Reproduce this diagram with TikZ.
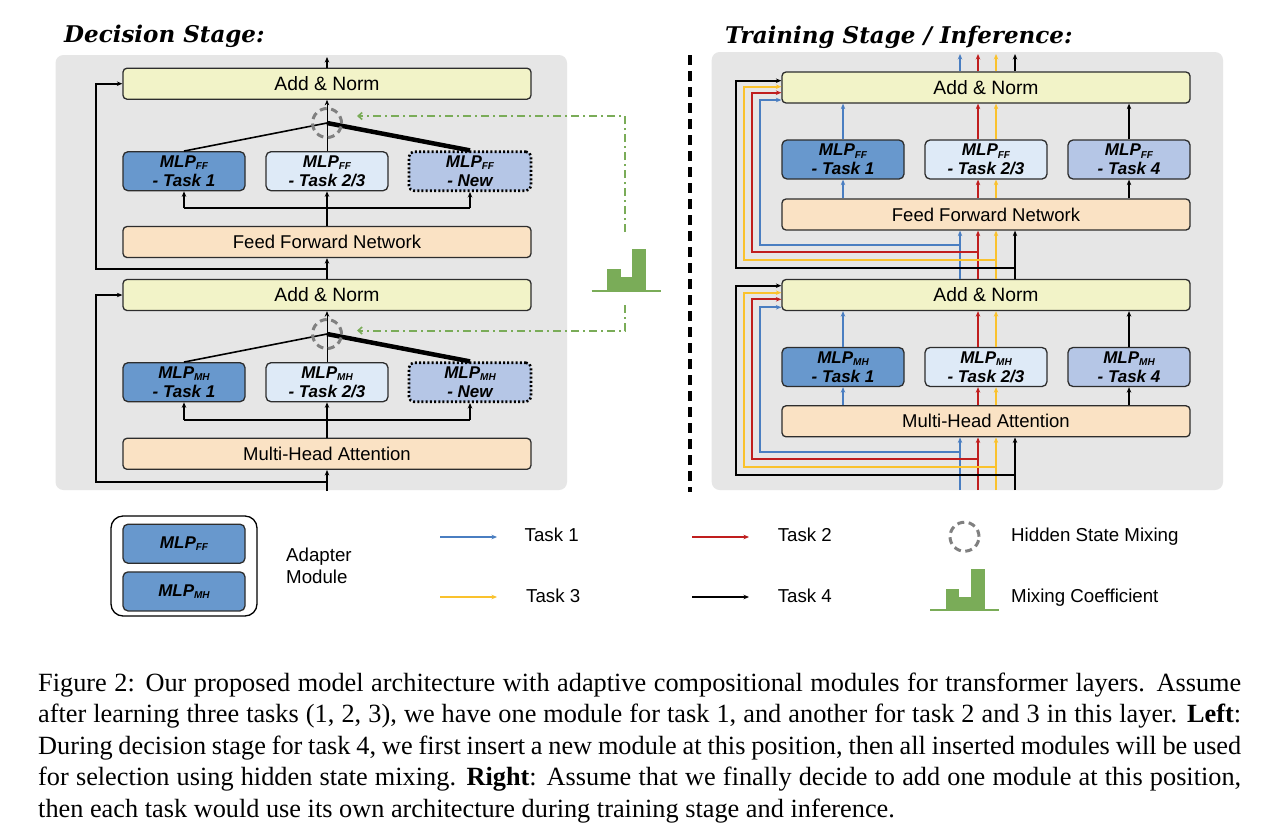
\documentclass[tikz,border=0pt]{standalone}
\usepackage{fontspec}
\setmainfont{Liberation Serif}
\setsansfont{Liberation Sans}
\newfontfamily\titlefont{DejaVu Serif}
\usetikzlibrary{arrows.meta}
\definecolor{panelgray}{RGB}{230,230,230}
\definecolor{anyellow}{RGB}{242,243,200}
\definecolor{peach}{RGB}{250,226,196}
\definecolor{mlpA}{RGB}{104,152,205}
\definecolor{mlpB}{RGB}{222,234,247}
\definecolor{mlpC}{RGB}{181,198,230}
\definecolor{bord}{RGB}{45,45,45}
\definecolor{tblue}{RGB}{74,126,193}
\definecolor{tred}{RGB}{192,30,30}
\definecolor{tyellow}{RGB}{250,194,45}
\definecolor{mixgreen}{RGB}{122,172,88}
\definecolor{mixgray}{RGB}{128,128,128}
\newcommand\mlpsub[1]{\raisebox{-2.5pt}{\fontsize{10}{10}\selectfont #1}}
\tikzset{
  wide/.style={draw=bord, line width=1.3pt, rounded corners=4pt, minimum width=408pt, minimum height=31pt, inner sep=0pt, font=\sffamily\fontsize{18.5}{22}\selectfont},
  anbox/.style={wide, fill=anyellow, font=\sffamily\fontsize{19.3}{22}\selectfont},
  ffbox/.style={wide, fill=peach},
  mlpbox/.style={draw=bord, line width=1.3pt, rounded corners=5pt, minimum width=122pt, minimum height=39pt, inner sep=0pt, align=center, font=\sffamily\bfseries\itshape\fontsize{17}{19}\selectfont},
  newbox/.style={mlpbox, draw=black, line width=2.6pt, dash pattern=on 2pt off 2.2pt},
  mixcirc/.style={circle, draw=mixgray, line width=3pt, dash pattern=on 7pt off 4.5pt, minimum size=29pt, inner sep=0pt},
  tip/.style={-{Stealth[length=5.5pt,width=4.5pt]}},
  bw/.style={line width=2pt, black},
  lane/.style={line width=2.3pt, tip},
  gdd/.style={mixgreen, line width=2pt, dash pattern=on 8pt off 4pt on 2pt off 4pt},
  gtip/.style={-{Straight Barb[length=4pt,width=7pt,line width=1.6pt]}},
  lbl/.style={font=\sffamily\fontsize{18.7}{21.3}\selectfont, inner sep=0pt, anchor=base west},
  ttl/.style={font=\titlefont\bfseries\itshape\fontsize{23}{26}\selectfont, inner sep=0pt, anchor=base west}
}
\begin{document}
\begin{tikzpicture}[x=1pt,y=-1pt]
\useasboundingbox[fill=white] (0,0) rectangle (1284,836);
% titles
\node[ttl] (t1) at (64,42) {Decision Stage:};
\node[ttl] (t2) at (725,43) {Training Stage / Inference:};
% panels
\fill[panelgray, rounded corners=8pt] (55.5,55) rectangle (567,490);
\fill[panelgray, rounded corners=8pt] (711.7,52) rectangle (1223,490);
\draw[line width=3.5pt, dash pattern=on 10pt off 6pt] (690,55) -- (690,492);

% ---------------- left panel ----------------
\node[anbox] (an1) at (327,83.7) {Add \& Norm};
\node[mlpbox, fill=mlpA] (m1a) at (184,171.2) {MLP\mlpsub{FF}\\- Task 1};
\node[mlpbox, fill=mlpB] (m1b) at (327,171.2) {MLP\mlpsub{FF}\\- Task 2/3};
\node[newbox, fill=mlpC] (m1c) at (470,171.2) {MLP\mlpsub{FF}\\- New};
\node[ffbox] (ffn) at (327,242) {Feed Forward Network};
\node[anbox] (an2) at (327,295) {Add \& Norm};
\node[mlpbox, fill=mlpA] (m2a) at (184,382.2) {MLP\mlpsub{MH}\\- Task 1};
\node[mlpbox, fill=mlpB] (m2b) at (327,382.2) {MLP\mlpsub{MH}\\- Task 2/3};
\node[newbox, fill=mlpC] (m2c) at (470,382.2) {MLP\mlpsub{MH}\\- New};
\node[ffbox] (mha) at (327,453.8) {Multi-Head Attention};

\coordinate (j1) at (327,123);
\coordinate (j2) at (327,334);
\coordinate (out1) at (327,57);
\coordinate (in1) at (327,491);
\coordinate (bus1) at (327,208);
\coordinate (bus2) at (327,420);
\coordinate (r1) at (327,269.3);
\coordinate (r2) at (327,481.7);

% upper block
\draw[bw, tip] (an1.north) -- (out1);
\draw[line width=1pt, tip] (m1b.north) -- (an1.south);
\draw[line width=1.6pt] (j1) -- (m1a.north);
\draw[line width=4.5pt] (j1) -- (m1c.north);
\draw[bw] (m1a.south |- bus1) -- (m1c.south |- bus1);
\draw[bw, tip] (ffn.north) -- (m1b.south);
\draw[bw, tip] (m1a.south |- bus1) -- (m1a.south);
\draw[bw, tip] (m1c.south |- bus1) -- (m1c.south);
\draw[bw, tip] (an2.north) -- (ffn.south);
\draw[bw, tip] (r1) -- (96,269.3) |- (an1.west);
\node[mixcirc] (mix1) at (j1) {};
% lower block
\draw[line width=1pt, tip] (m2b.north) -- (an2.south);
\draw[line width=1.6pt] (j2) -- (m2a.north);
\draw[line width=4.5pt] (j2) -- (m2c.north);
\draw[bw] (m2a.south |- bus2) -- (m2c.south |- bus2);
\draw[bw, tip] (mha.north) -- (m2b.south);
\draw[bw, tip] (m2a.south |- bus2) -- (m2a.south);
\draw[bw, tip] (m2c.south |- bus2) -- (m2c.south);
\draw[bw, tip] (in1) -- (mha.south);
\draw[bw, tip] (r2) -- (96,481.7) |- (an2.west);
\node[mixcirc] (mix2) at (j2) {};

% mixing coefficient (green)
\coordinate (g1) at (357,116);
\coordinate (g2) at (357,330.5);
\draw[gdd, gtip] (625,232) -- (625,116) -- (g1);
\draw[gdd, gtip] (625,305) -- (625,330.5) -- (g2);
\fill[mixgreen] (606.7,269.3) rectangle (621,291);
\fill[mixgreen] (621,276.7) rectangle (632.3,291);
\fill[mixgreen] (632.3,249.3) rectangle (646,291);
\draw[mixgreen, line width=2pt] (591.7,291) -- (660.7,291);

% ---------------- right panel ----------------
\node[anbox] (ran1) at (986,87.5) {Add \& Norm};
\node[mlpbox, fill=mlpA] (rm1a) at (843,159.5) {MLP\mlpsub{FF}\\- Task 1};
\node[mlpbox, fill=mlpB] (rm1b) at (986,159.5) {MLP\mlpsub{FF}\\- Task 2/3};
\node[mlpbox, fill=mlpC] (rm1c) at (1129,159.5) {MLP\mlpsub{FF}\\- Task 4};
\node[ffbox] (rffn) at (986,214.5) {Feed Forward Network};
\node[anbox] (ran2) at (986,295) {Add \& Norm};
\node[mlpbox, fill=mlpA] (rm2a) at (843,367) {MLP\mlpsub{MH}\\- Task 1};
\node[mlpbox, fill=mlpB] (rm2b) at (986,367) {MLP\mlpsub{MH}\\- Task 2/3};
\node[mlpbox, fill=mlpC] (rm2c) at (1129,367) {MLP\mlpsub{MH}\\- Task 4};
\node[ffbox] (rmha) at (986,421.3) {Multi-Head Attention};

\coordinate (lb) at (960,0);
\coordinate (lr) at (978,0);
\coordinate (ly) at (996,0);
\coordinate (lk) at (1015,0);

% top outputs
\draw[lane, tblue] (lb |- ran1.north) -- (960,54);
\draw[lane, tred] (lr |- ran1.north) -- (978,54);
\draw[lane, tyellow] (ly |- ran1.north) -- (996,54);
\draw[lane, black] (lk |- ran1.north) -- (1015,54);
% MLP FF routes
\draw[lane, tblue] (rm1a.north) -- (rm1a.north |- ran1.south);
\draw[lane, tblue] (rm1a.south |- rffn.north) -- (rm1a.south);
\draw[lane, tred] (lr |- rm1b.north) -- (lr |- ran1.south);
\draw[lane, tred] (lr |- rffn.north) -- (lr |- rm1b.south);
\draw[lane, tyellow] (ly |- rm1b.north) -- (ly |- ran1.south);
\draw[lane, tyellow] (ly |- rffn.north) -- (ly |- rm1b.south);
\draw[lane, black] (rm1c.north) -- (rm1c.north |- ran1.south);
\draw[lane, black] (rm1c.south |- rffn.north) -- (rm1c.south);
% between blocks
\draw[lane, tblue] (lb |- ran2.north) -- (lb |- rffn.south);
\draw[lane, tred] (lr |- ran2.north) -- (lr |- rffn.south);
\draw[lane, tyellow] (ly |- ran2.north) -- (ly |- rffn.south);
\draw[lane, black] (lk |- ran2.north) -- (lk |- rffn.south);
% upper residual loops
\draw[lane, black] (1015,268.3) -- (736,268.3) -- (736,80.7) -- (ran1.west |- 0,80.7);
\draw[lane, tyellow] (996,260) -- (744,260) -- (744,86.7) -- (ran1.west |- 0,86.7);
\draw[lane, tred] (978,251.7) -- (752,251.7) -- (752,92.7) -- (ran1.west |- 0,92.7);
\draw[lane, tblue] (960,245) -- (760,245) -- (760,100) -- (ran1.west |- 0,100);
% MLP MH routes
\draw[lane, tblue] (rm2a.north) -- (rm2a.north |- ran2.south);
\draw[lane, tblue] (rm2a.south |- rmha.north) -- (rm2a.south);
\draw[lane, tred] (lr |- rm2b.north) -- (lr |- ran2.south);
\draw[lane, tred] (lr |- rmha.north) -- (lr |- rm2b.south);
\draw[lane, tyellow] (ly |- rm2b.north) -- (ly |- ran2.south);
\draw[lane, tyellow] (ly |- rmha.north) -- (ly |- rm2b.south);
\draw[lane, black] (rm2c.north) -- (rm2c.north |- ran2.south);
\draw[lane, black] (rm2c.south |- rmha.north) -- (rm2c.south);
% inputs
\draw[lane, tblue] (960,490) -- (lb |- rmha.south);
\draw[lane, tred] (978,490) -- (lr |- rmha.south);
\draw[lane, tyellow] (996,490) -- (ly |- rmha.south);
\draw[lane, black] (1015,490) -- (lk |- rmha.south);
% lower residual loops
\draw[lane, black] (1015,475) -- (736,475) -- (736,285.7) -- (ran2.west |- 0,285.7);
\draw[lane, tyellow] (996,467.3) -- (744,467.3) -- (744,292.7) -- (ran2.west |- 0,292.7);
\draw[lane, tred] (978,459.3) -- (752,459.3) -- (752,299.3) -- (ran2.west |- 0,299.3);
\draw[lane, tblue] (960,451.7) -- (760,451.7) -- (760,307.3) -- (ran2.west |- 0,307.3);

% ---------------- legend ----------------
\node[draw=black, line width=1.3pt, rounded corners=12pt, fill=white, minimum width=146pt, minimum height=100pt] (leg) at (184,566) {};
\node[mlpbox, fill=mlpA, minimum height=39pt] (lff) at (184,543.7) {MLP\mlpsub{FF}};
\node[mlpbox, fill=mlpA, minimum height=39pt] (lmh) at (184,591.4) {MLP\mlpsub{MH}};
\node[lbl] (adp) at (286,561.7) {Adapter};
\node[lbl] (mod) at (286,583) {Module};

\coordinate (a1s) at (440,537);
\coordinate (a1e) at (497,537);
\coordinate (a3s) at (440,597);
\coordinate (a3e) at (497,597);
\coordinate (a2s) at (692,537);
\coordinate (a2e) at (749,537);
\coordinate (a4s) at (692,597);
\coordinate (a4e) at (749,597);
\draw[lane, tblue] (a1s) -- (a1e);
\draw[lane, tyellow] (a3s) -- (a3e);
\draw[lane, tred] (a2s) -- (a2e);
\draw[lane, black] (a4s) -- (a4e);
\node[lbl] (k1) at (524.5,541.5) {Task 1};
\node[lbl] (k3) at (526,602) {Task 3};
\node[lbl] (k2) at (777.6,541.5) {Task 2};
\node[lbl] (k4) at (777.6,602) {Task 4};
\node[mixcirc] (lmix) at (964.5,536.7) {};
\node[lbl] (khs) at (1011,541.5) {Hidden State Mixing};
\fill[mixgreen] (945.5,589) rectangle (958.6,610);
\fill[mixgreen] (958.6,597) rectangle (970.7,610);
\fill[mixgreen] (970.7,569) rectangle (985.2,610);
\draw[mixgreen, line width=1.6pt] (930,610) -- (999,610);
\node[lbl] (kmc) at (1011,602) {Mixing Coefficient};

% ---------------- caption ----------------
\node[inner sep=0pt, anchor=base west] (cap) at (38,691) {\parbox[t]{1203pt}{\fontsize{26.3}{31.6}\selectfont\hbadness=10000\emergencystretch=0pt
Figure 2: Our proposed model architecture with adaptive compositional modules for transformer layers. Assume\linebreak
after learning three tasks (1, 2, 3), we have one module for task 1, and another for task 2 and 3 in this layer. \textbf{Left}:\linebreak
During decision stage for task 4, we first insert a new module at this position, then all inserted modules will be used\linebreak
for selection using hidden state mixing. \textbf{Right}: Assume that we finally decide to add one module at this position,\linebreak
then each task would use its own architecture during training stage and inference.}};
\end{tikzpicture}
\end{document}
